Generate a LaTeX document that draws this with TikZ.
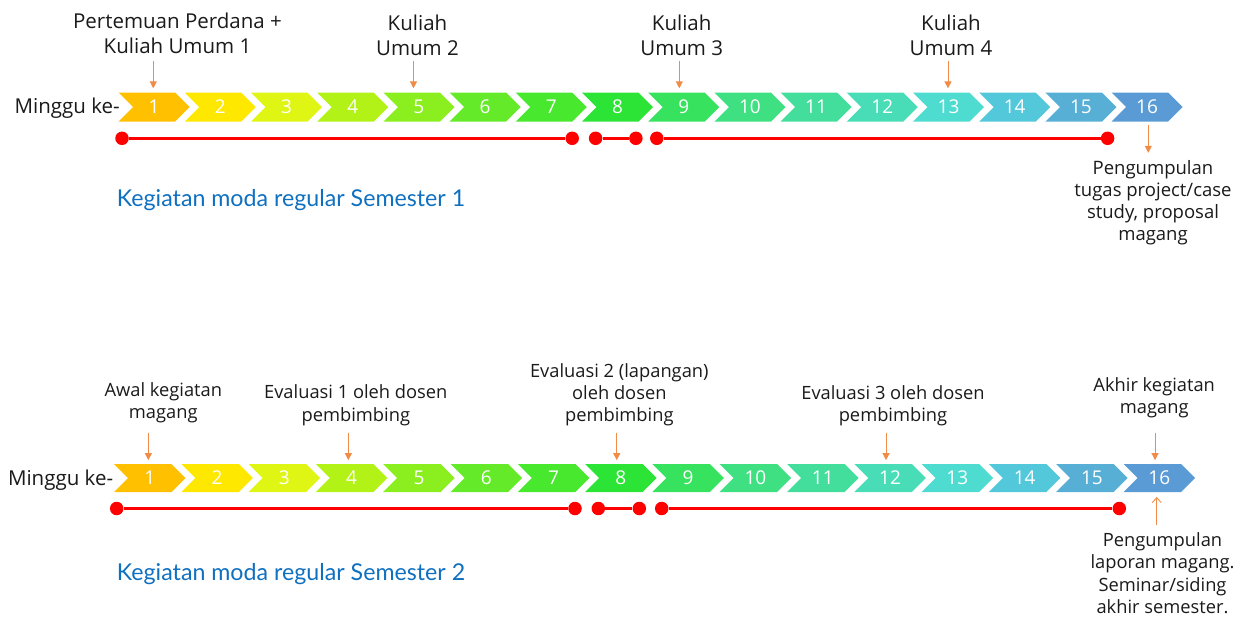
\documentclass[tikz,border=0pt]{standalone}
\usepackage{fontspec}
\setmainfont{Open Sans}
\newfontfamily\kegfont{Lato}
\usetikzlibrary{arrows.meta}
\definecolor{c1}{HTML}{FFC000}
\definecolor{c2}{HTML}{FFE800}
\definecolor{c3}{HTML}{DFF614}
\definecolor{c4}{HTML}{B2F216}
\definecolor{c5}{HTML}{8BEE1E}
\definecolor{c6}{HTML}{65EA2A}
\definecolor{c7}{HTML}{48E82E}
\definecolor{c8}{HTML}{2CE436}
\definecolor{c9}{HTML}{37E25E}
\definecolor{c10}{HTML}{3EE082}
\definecolor{c11}{HTML}{43DE9C}
\definecolor{c12}{HTML}{48DDB6}
\definecolor{c13}{HTML}{4EDCD0}
\definecolor{c14}{HTML}{53C8DB}
\definecolor{c15}{HTML}{57AFD6}
\definecolor{c16}{HTML}{5B9BD5}
\definecolor{oarr}{RGB}{241,140,72}
\definecolor{tred}{HTML}{FF0000}
\definecolor{kblue}{HTML}{1070C0}
\definecolor{txt}{HTML}{1A1A1A}
\begin{document}
\begin{tikzpicture}[x=1pt,y=-1pt,
  lblbig/.style={font=\fontsize{20.5}{25}\selectfont, text=txt, align=center, inner sep=0, anchor=base},
  lblsm/.style={font=\fontsize{18.3}{22.2}\selectfont, text=txt, align=center, inner sep=0, anchor=base},
  numtxt/.style={font=\fontsize{19}{22}\selectfont, text=white, inner sep=0, minimum width=40pt, minimum height=28.5pt},
  weekhead/.style={font=\fontsize{20.5}{25}\selectfont, text=txt, inner sep=0, anchor=base east},
  kegtxt/.style={font=\kegfont\fontsize{23.2}{27}\selectfont, text=kblue, inner sep=0, anchor=base west},
  dot/.style={circle, fill=tred, inner sep=0, minimum size=13.5pt},
  tline/.style={tred, line width=2.6pt},
  oar/.style={oarr, line width=1pt, -{Triangle[width=7pt,length=7pt]}},
  oarup/.style={oarr, line width=0.9pt, -{Straight Barb[width=9pt,length=5pt]}}]
\useasboundingbox (0,0) rectangle (1243,626);
% ---------- Semester 1 ----------
\node[weekhead] (mk1) at (120,113.3) {Minggu ke-};
\foreach \i in {1,...,16}{
  \pgfmathsetmacro\L{118.6+66.2*(\i-1)}
  \fill[c\i] (\L,92.6) -- ++(56.5,0) -- ++(14.5,14.5) -- ++(-14.5,14.5) -- ++(-56.5,0) -- ++(14.5,-14.5) -- cycle;
  \node[numtxt] (a\i) at ({\L+35.5},107.1) {\i};
}
\node[lblbig] (ta1) at (177.5,53.3) {Pertemuan Perdana +\\Kuliah Umum 1};
\node[lblbig] (ta5) at (417.5,56) {Kuliah\\Umum 2};
\node[lblbig] (ta9) at (681.7,56) {Kuliah\\Umum 3};
\node[lblbig] (ta13) at (951,56) {Kuliah\\Umum 4};
\node[lblsm, font=\fontsize{18.5}{21.7}\selectfont] (ta16) at (1153,240) {Pengumpulan\\tugas project/case\\study, proposal\\magang};
\draw[oar] ([xshift=-0.8pt,yshift=31.6pt]a1.north) -- ([xshift=-0.8pt,yshift=4.3pt]a1.north);
\draw[oar] ([xshift=-5.4pt,yshift=31.6pt]a5.north) -- ([xshift=-5.4pt,yshift=4.3pt]a5.north);
\draw[oar] ([xshift=-4.4pt,yshift=31.6pt]a9.north) -- ([xshift=-4.4pt,yshift=4.3pt]a9.north);
\draw[oar] ([xshift=-0.5pt,yshift=31.6pt]a13.north) -- ([xshift=-0.5pt,yshift=4.3pt]a13.north);
\draw[oar] ([xshift=1.2pt,yshift=-3.6pt]a16.south) -- ([xshift=1.2pt,yshift=-31.3pt]a16.south);
\node[dot] (p1) at (122,138.3) {};
\node[dot] (p2) at (572.2,138.3) {};
\node[dot] (p3) at (595.6,138.3) {};
\node[dot] (p4) at (635.9,138.3) {};
\node[dot] (p5) at (656.8,138.3) {};
\node[dot] (p6) at (1107.6,138.3) {};
\draw[tline] (p1) -- (p2);
\draw[tline] (p3) -- (p4);
\draw[tline] (p5) -- (p6);
\node[kegtxt] (k1) at (116.7,206.7) {Kegiatan moda regular Semester 1};
% ---------- Semester 2 ----------
\node[weekhead] (mk2) at (113.3,485) {Minggu ke-};
\foreach \i in {1,...,16}{
  \pgfmathsetmacro\L{114+67.3*(\i-1)}
  \fill[c\i] (\L,464) -- ++(57.5,0) -- ++(14,14) -- ++(-14,14) -- ++(-57.5,0) -- ++(14,-14) -- cycle;
  \node[numtxt] (b\i) at ({\L+35.75},478) {\i};
}
\node[lblsm] (tb1) at (163.3,418.3) {Awal kegiatan\\magang};
\node[lblsm] (tb4) at (355.8,421) {Evaluasi 1 oleh dosen\\pembimbing};
\node[lblsm] (tb8) at (619.3,421.7) {Evaluasi 2 (lapangan)\\oleh dosen\\pembimbing};
\node[lblsm] (tb12) at (893,421.5) {Evaluasi 3 oleh dosen\\pembimbing};
\node[lblsm] (tb16) at (1154.2,413.3) {Akhir kegiatan\\magang};
\node[lblsm] (bb16) at (1162.5,613.3) {Pengumpulan\\laporan magang.\\Seminar/siding\\akhir semester.};
\draw[oar] ([xshift=-1.4pt,yshift=31pt]b1.north) -- ([xshift=-1.4pt,yshift=3.4pt]b1.north);
\draw[oar] ([xshift=-3.3pt,yshift=31pt]b4.north) -- ([xshift=-3.3pt,yshift=3.4pt]b4.north);
\draw[oar] ([xshift=-4.1pt,yshift=31pt]b8.north) -- ([xshift=-4.1pt,yshift=3.4pt]b8.north);
\draw[oar] ([xshift=-4pt,yshift=31pt]b12.north) -- ([xshift=-4pt,yshift=3.4pt]b12.north);
\draw[oar] ([xshift=-4.2pt,yshift=31pt]b16.north) -- ([xshift=-4.2pt,yshift=3.4pt]b16.north);
\draw[oarup] ([xshift=-2.5pt,yshift=-33pt]b16.south) -- ([xshift=-2.5pt,yshift=-4.5pt]b16.south);
\node[dot] (q1) at (116.7,508.5) {};
\node[dot] (q2) at (575,508.5) {};
\node[dot] (q3) at (598.3,508.5) {};
\node[dot] (q4) at (639.3,508.5) {};
\node[dot] (q5) at (661.7,508.5) {};
\node[dot] (q6) at (1119.3,508.5) {};
\draw[tline] (q1) -- (q2);
\draw[tline] (q3) -- (q4);
\draw[tline] (q5) -- (q6);
\node[kegtxt] (k2) at (116.7,580) {Kegiatan moda regular Semester 2};
\end{tikzpicture}
\end{document}
